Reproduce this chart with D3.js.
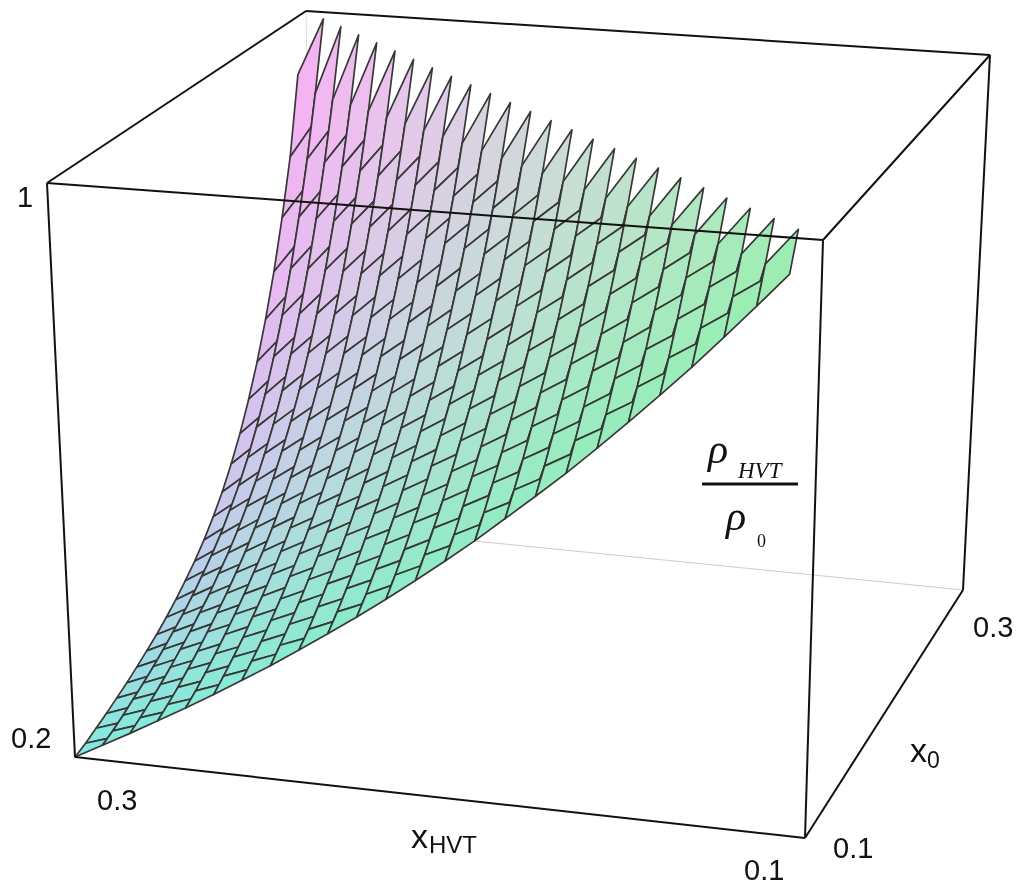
<!DOCTYPE html>
<html><head><meta charset="utf-8">
<style>html,body{margin:0;padding:0;background:#fff}svg{display:block;filter:blur(0.4px)}</style>
<script src="https://cdnjs.cloudflare.com/ajax/libs/d3/7.8.5/d3.min.js"></script>
</head><body><svg id="c" width="1024" height="888"></svg>
<script>
// x_HVT along the rows, x_0 along the columns
const xHVT=[0.3,0.292,0.284,0.276,0.268,0.26,0.252,0.244,0.236,0.228,0.22,0.212,0.204,0.196,0.188,0.18,0.172,0.164,0.156,0.148,0.14,0.132,0.124,0.116,0.108,0.1];
const x0s=[0.1,0.108,0.116,0.124,0.132,0.14,0.148,0.156,0.164,0.172,0.18,0.188,0.196,0.204,0.212,0.22,0.228,0.236,0.244,0.252,0.26,0.268,0.276,0.284,0.292];
// rho_HVT / rho_0 (x 1000), one row per x_0
const rho=[
[200,222,244,267,290,314,339,364,391,418,446,475,505,536,568,602,636,671,708,746,785,825,867,910,954],
[205,228,252,276,300,326,352,379,406,435,464,495,527,559,593,628,664,702,740,780,822,864,908,953,1000],
[212,236,261,286,312,339,366,395,424,454,485,517,551,585,621,657,695,735,776,818,861,906,952,1000],
[219,245,271,298,325,353,382,412,443,474,507,541,576,613,650,689,729,771,813,858,904,951,1000],
[227,254,282,310,339,369,399,431,463,497,531,567,604,642,682,723,765,809,854,901,950,1000],
[235,264,294,324,354,385,418,451,485,520,557,595,634,674,716,759,804,851,899,949,1000],
[244,275,306,338,370,403,437,472,509,546,585,625,666,709,753,799,847,896,947,1000],
[254,287,320,353,388,423,459,496,534,574,615,657,701,746,794,842,893,946,1000],
[264,299,334,370,406,444,482,521,562,604,647,692,739,788,838,890,944,1000],
[276,313,351,388,427,467,507,549,592,637,683,731,781,833,886,942,1000],
[289,329,368,409,450,492,535,579,625,673,723,774,827,883,940,1000],
[304,346,388,431,475,520,566,613,662,713,766,821,878,938,1000],
[320,365,411,456,503,551,600,651,703,758,815,874,936,1000],
[339,388,436,485,535,586,638,693,749,808,869,933,1000],
[361,413,465,517,570,625,681,740,801,864,931,1000],
[386,442,497,553,610,669,730,793,859,928,1000],
[416,476,535,595,656,719,784,853,925,1000],
[450,514,578,642,708,776,847,921,1000],
[490,559,627,696,767,840,918,1000],
[536,610,683,757,834,914,1000],
[589,669,747,827,911,1000],
[650,736,820,907,1000],
[721,812,903,1000],
[802,900,1000],
[915,1000]
];
const tickLabels=[["1",17,207],["0.2",11,748],["0.3",97,810],["0.1",744,880],["0.1",833,858],["0.3",973,637]];

const U=d3.scaleLinear([0.3,0.1],[0,1]),V=d3.scaleLinear([0.1,0.3],[0,1]),W=d3.scaleLinear([200,1000],[0,1]);
const P={"000":[75,757],"100":[805,838],"010":[315,525],"110":[963,590],"001":[47,183],"101":[823,240],"011":[306,11],"111":[990,55]};
const p=-.04,q=.125,r=-.06;
function proj(u,v,w){let X=0,Y=0,H=0;for(const a of[0,1])for(const b of[0,1])for(const c of[0,1]){const t=(a?u:1-u)*(b?v:1-v)*(c?w:1-w);const h=1+p*a+q*b+r*c;const C=P[""+a+b+c];X+=t*h*C[0];Y+=t*h*C[1];H+=t*h;}return[X/H,Y/H];}
const pt=(x,y,z)=>proj(U(x),V(y),W(z));
const svg=d3.select("#c");
const ln=(a,b,col,wd)=>svg.append("line").attr("x1",P[a][0]).attr("y1",P[a][1]).attr("x2",P[b][0]).attr("y2",P[b][1]).attr("stroke",col).attr("stroke-width",wd);
ln("010","110","#ccc",1);ln("010","011","#ddd",1);
const cA=d3.rgb("#80EADF"),cB=d3.rgb("#FAB0F5"),cC=d3.rgb("#9CEEAE");
const n=xHVT.length-1;
const mix=(u,v)=>{const k=f=>Math.min(255,Math.round((1-u-v)*cA[f]+v*cB[f]+u*cC[f]+36*u*v));return `rgb(${k('r')},${k('g')},${k('b')})`};
const cells=[];for(let j=rho.length-2;j>=0;j--)for(let i=0;i+1<rho[j+1].length;i++)cells.push([i,j]);
const kink=.85,rise=.5;
function rowEdge(a,b){
  const A=[xHVT[a],x0s[b],rho[b][a]],B=[xHVT[a+1],x0s[b],rho[b][a+1]];
  if(b===0||a+2===rho[b].length)return [pt(...A),pt(...B)];
  return [pt(...A),pt(A[0]+(B[0]-A[0])*kink,A[1],A[2]+(B[2]-A[2])*rise),pt(...B)];
}
svg.append("g").selectAll("path").data(cells).join("path").attr("d",([i,j])=>{
  const low=rowEdge(i,j),up=rowEdge(i,j+1).reverse();
  return d3.line()(low.concat(up))+"Z"}).attr("fill",([i,j])=>mix((i+.5)/n,(j+.5)/n)).attr("stroke","#383838").attr("stroke-width",1.7).attr("stroke-linejoin","round");
[["001","000"],["000","100"],["100","110"],["110","111"],["111","011"],["011","001"],["001","101"],["101","111"],["101","100"]].forEach(([a,b])=>ln(a,b,"#111",2));
const T=(s,x,y,fs,o={})=>svg.append("text").attr("x",x).attr("y",y).attr("font-size",fs).attr("font-family",o.f||"Liberation Sans").attr("font-style",o.i||"normal").attr("fill","#111").text(s);
tickLabels.forEach(([s,x,y])=>T(s,x,y,29));
T("x",411,848,34);T("HVT",429,853,24);T("x",910,762,34);T("0",927,768,23);
T("ρ",708,463,42,{f:"Liberation Serif",i:"italic"});T("HVT",738,478,23,{f:"Liberation Serif",i:"italic"});
T("ρ",726,530,42,{f:"Liberation Serif",i:"italic"});T("0",757,547,18,{f:"Liberation Serif"});
svg.append("line").attr("x1",702).attr("x2",798).attr("y1",484).attr("y2",484).attr("stroke","#111").attr("stroke-width",3);
</script></body></html>
